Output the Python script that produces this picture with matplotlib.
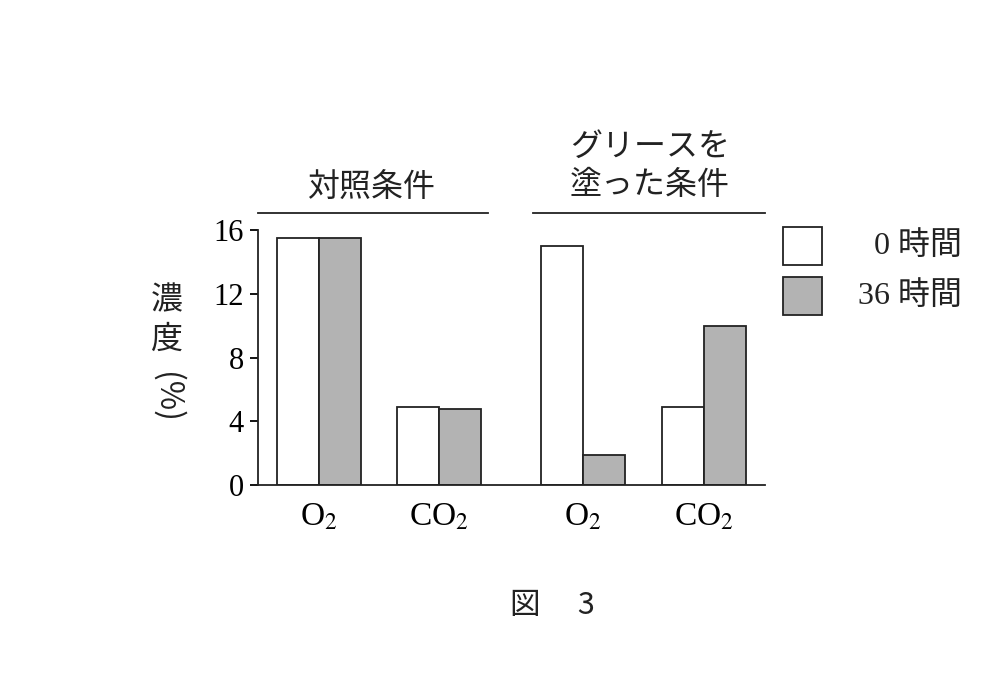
import matplotlib
matplotlib.use("Agg")
import matplotlib.pyplot as plt

categories = ["O$_2$", "CO$_2$", "O$_2$", "CO$_2$"]
positions = [0, 1, 2.2, 3.21]
hour0 = [15.5, 4.9, 15.0, 4.9]
hour36 = [15.5, 4.8, 1.9, 10.0]
yticks = [0, 4, 8, 12, 16]
groups = ["対照条件", "グリースを\n塗った条件"]
legend_labels = ["0 時間", "36 時間"]

plt.rcParams['mathtext.fontset'] = 'stix'
jp = ['Noto Sans CJK JP', 'DejaVu Sans']
num = ['Liberation Serif', 'DejaVu Serif']

fig = plt.figure(figsize=(10, 6.89), dpi=100)
ax = fig.add_axes([0.258, 0.296, 0.507, 0.370])
w = 0.35
ax.bar([p - w/2 for p in positions], hour0, w, color='white', edgecolor='#222', lw=1.3)
ax.bar([p + w/2 for p in positions], hour36, w, color='#b3b3b3', edgecolor='#222', lw=1.3)
ax.set_xlim(-0.508, 3.717)
ax.set_ylim(0, 16)
ax.set_yticks(yticks)
ax.set_yticklabels([str(t) for t in yticks], family=num, fontsize=22)
ax.set_xticks(positions)
ax.set_xticklabels(categories, family=num, fontsize=24)
ax.tick_params(axis='x', length=0, pad=12)
ax.tick_params(axis='y', length=6, width=1.3, pad=4)
for s in ['top', 'right']:
    ax.spines[s].set_visible(False)
for s in ['left', 'bottom']:
    ax.spines[s].set_linewidth(1.3)
    ax.spines[s].set_color('#222')

# group headers
fig.add_artist(plt.Line2D([0.258, 0.488], [1-213/689]*2, color='#222', lw=1.3))
fig.add_artist(plt.Line2D([0.533, 0.765], [1-213/689]*2, color='#222', lw=1.3))
fig.text(0.372, 1-187/689, groups[0], family=jp, fontsize=23, ha='center', va='center', color='#222')
fig.text(0.650, 1-166/689, groups[1], family=jp, fontsize=23, ha='center', va='center',
         color='#222', linespacing=1.25)

# y label
fig.text(0.167, 1-300/689, "濃", family=jp, fontsize=23, ha='center', va='center', color='#222')
fig.text(0.167, 1-340/689, "度", family=jp, fontsize=23, ha='center', va='center', color='#222')
fig.text(0.167, 1-397/689, "(%)", family=jp, fontsize=23, ha='center', va='center', rotation=-90, color='#222')

# legend
for i, (lab, fc) in enumerate(zip(legend_labels, ['white', '#b3b3b3'])):
    yc = 1 - (246 + 50*i)/689
    fig.add_artist(plt.Rectangle((0.783, yc - 0.027), 0.039, 0.054, facecolor=fc,
                                 edgecolor='#222', lw=1.3, transform=fig.transFigure))
    fig.text(0.962, yc, lab, family=['Liberation Serif', 'Noto Sans CJK JP'], fontsize=23,
             ha='right', va='center', color='#222')

fig.text(0.552, 1-605/689, "図　 3", family=['Noto Sans CJK JP'], fontsize=22, ha='center',
         va='center', color='#222')

fig.savefig("out.png", dpi=100, facecolor='white')
